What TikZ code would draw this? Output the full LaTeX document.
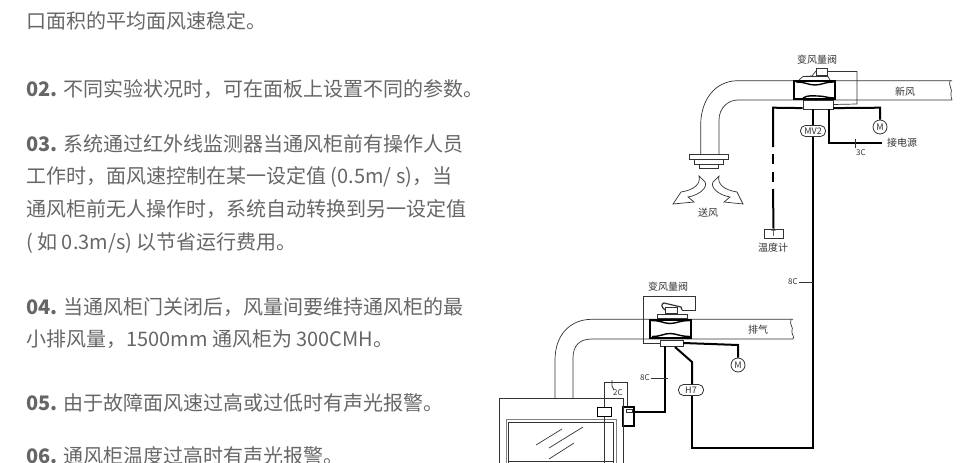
\documentclass[tikz,border=0pt]{standalone}
\usepackage{fontspec}
\setmainfont{Noto Sans CJK SC}
\newfontfamily\boldcjk{Noto Sans CJK SC Bold}
\definecolor{bodygray}{HTML}{666666}
\definecolor{cadgray}{HTML}{333333}
\tikzset{
  bodytext/.style={anchor=west, inner sep=0pt, text=bodygray, font=\fontsize{20}{24}\selectfont},
  cadtext/.style={inner sep=0pt, text=cadgray, font=\fontsize{10}{12}\selectfont},
  duct/.style={draw=cadgray, line width=.7pt},
  thin wire/.style={draw=cadgray, line width=.7pt},
  wire/.style={draw=black, line width=2pt},
  valve/.style={draw=black, line width=2pt, fill=white},
  part/.style={draw=cadgray, line width=.8pt, fill=white, inner sep=0pt},
  pill/.style={part, rounded corners=5pt, minimum height=11pt, minimum width=25pt, text=cadgray, font=\fontsize{9}{10}\selectfont},
  motor/.style={part, circle, minimum size=14pt, text=cadgray, font=\fontsize{9}{10}\selectfont}
}
\begin{document}
\begin{tikzpicture}[x=1pt, y=-1pt]
  \useasboundingbox (0, 0) rectangle (980, 463);

  %% text column
  \node[bodytext] (line1) at (26, 21) {口面积的平均面风速稳定。};
  \node[bodytext] (line2) at (26, 89) {{\bfseries 02.} 不同实验状况时，可在面板上设置不同的参数。};
  \node[bodytext] (line3) at (26, 144) {{\bfseries 03.} 系统通过红外线监测器当通风柜前有操作人员};
  \node[bodytext] (line4) at (26, 177) {工作时，面风速控制在某一设定值 (0.5m/ s)，当};
  \node[bodytext] (line5) at (26, 209) {通风柜前无人操作时，系统自动转换到另一设定值};
  \node[bodytext] (line6) at (26, 243) {( 如 0.3m/s) 以节省运行费用。};
  \node[bodytext] (line7) at (26, 307) {{\bfseries 04.} 当通风柜门关闭后，风量间要维持通风柜的最};
  \node[bodytext] (line8) at (26, 339) {小排风量，1500mm 通风柜为 300CMH。};
  \node[bodytext] (line9) at (26, 403) {{\bfseries 05.} 由于故障面风速过高或过低时有声光报警。};
  \node[bodytext] (line10) at (26, 456) {{\bfseries 06.} 通风柜温度过高时有声光报警。};

  %% fresh air duct
  \draw[duct](952, 80.7) to (738, 80.7) .. controls (715, 80.7) and (700.7, 100) .. (700.7, 125) to (700.7, 154);
  \draw[duct](952, 100) to (738, 100) .. controls (728, 100) and (719, 108) .. (719, 120) to (719, 154);
  \draw[duct](950, 80.7) .. controls (948, 85) and (953, 90) .. (951, 93) .. controls (950, 96) and (952, 98) .. (952, 100);
  %% outlet
  \draw[part](689, 154) rectangle (728, 159);
  \draw[part](694, 159) rectangle (723, 164);
  \draw[part](699, 164) rectangle (718, 168);
  %% supply arrows
  \draw[duct](699, 176) .. controls (701, 184) and (694, 190) .. (681, 192) to (673, 204) to (694, 202) to (688, 197) .. controls (700, 195) and (708, 187) .. (705, 182) to cycle;
  \draw[duct](719, 176) .. controls (717, 184) and (724, 190) .. (737, 192) to (743, 204) to (724, 202) to (730, 197) .. controls (718, 195) and (710, 187) .. (713, 182) to cycle;
  \node[cadtext] (supply) at (708, 213) {送风};

  %% fresh air valve
  \node[cadtext] (valveAlabel) at (817, 60) {变风量阀};
  \node[valve, minimum width=41pt, minimum height=18pt, inner sep=0pt] (valveA) at (814.5, 90) {};
  \draw[line width=1.4pt](796, 82) .. controls (806, 82) and (808, 85) .. (815, 85) .. controls (822, 85) and (824, 82) .. (834, 82);
  \draw[line width=1.4pt](803, 98) .. controls (808, 95) and (812, 96) .. (818, 96) .. controls (824, 96) and (828, 98) .. (834, 98);
  \node[part, minimum width=30pt, minimum height=9pt] (driveA) at (818, 104.5) {};
  \node[part, minimum width=11pt, minimum height=7pt] (actA) at (821.5, 71.5) {};
  \draw[duct](799, 80) to (803, 76.5) to (812, 76) to (816, 71);
  \draw[duct](803, 76.5) to (828, 76.5) to (830, 80);
  \draw[thin wire](actA.east) to (857, 71.5) to (857, 104) to (driveA.east);

  %% wires of the fresh air valve
  \node[part, minimum width=19pt, minimum height=9pt, text=cadgray, font=\fontsize{8}{9}\selectfont] (tempbox) at (773.5, 233.5) {T};
  \node[cadtext] (templabel) at (773, 248) {温度计};
  \coordinate (leftturn) at (773, 107.7);
  \draw[wire](driveA.south west) ++(0, -1.3) to (leftturn) to (773, 147);
  \draw[wire](773, 154) to (773, 164);
  \draw[wire](773, 172) to (773, 182);
  \draw[wire](773, 189) to (tempbox.north);

  \node[motor] (motorA) at (880, 127) {M};
  \draw[wire](driveA.south east) ++(0, -1.3) to (880, 107.7) to (motorA.north);
  \coordinate (powerend) at (882, 143);
  \node[cadtext, anchor=west] (powerlabel) at (887, 143) {接电源};
  \draw[wire](829, 109) to (829, 143) to (powerend);
  \draw[thin wire](855, 139) to (855, 148);
  \node[cadtext, font=\fontsize{8}{9}\selectfont] (label3c) at (861, 153) {3C};

  %% exhaust duct
  \draw[duct](793, 319.3) to (592, 319.3) .. controls (570, 319.3) and (555, 335) .. (555, 360) to (555, 398);
  \draw[duct](793, 339) to (592, 339) .. controls (580, 339) and (573, 345) .. (573, 358) to (573, 398);
  \draw[duct](791, 319.3) .. controls (789, 325) and (794, 328) .. (792, 330) .. controls (791, 334) and (795, 337) .. (793, 339);
  \node[cadtext] (exhaust) at (758, 330) {排气};
  \node[cadtext] (fresh) at (905, 91.7) {新风};

  %% exhaust valve
  \node[cadtext] (valveBlabel) at (668, 287) {变风量阀};
  \draw[thin wire](660, 343) to (643, 343) to (643, 296) to (695, 296) to (695, 310) to (682, 310);
  \node[valve, minimum width=41pt, minimum height=18pt, inner sep=0pt] (valveB) at (670, 328.5) {};
  \draw[line width=1.4pt](651, 320.5) .. controls (661, 320.5) and (664, 323.5) .. (670, 323.5) .. controls (676, 323.5) and (680, 320.5) .. (690, 320.5);
  \draw[line width=1.4pt](652, 336.5) .. controls (661, 336.5) and (664, 333.5) .. (670, 333.5) .. controls (676, 333.5) and (680, 336.5) .. (690, 336.5);
  \node[part, minimum width=23pt, minimum height=6pt] (driveB) at (671.5, 343) {};
  \draw[line width=1.2pt, draw=cadgray](682, 310) to (681, 307) to (664, 303) [rounded corners=1pt] to (662, 304) to (662, 307) to (665, 310);
  \node[part, minimum width=12pt, minimum height=6pt] (actB) at (671, 310.5) {};
  \draw[part](657, 314.5) rectangle (687, 318);

  %% wires of the exhaust valve
  \node[motor] (motorB) at (738, 365) {M};
  \draw[wire](driveB.east) to (738, 345) to (motorB.north);

  \node[pill] (hseven) at (691, 390) {H7};
  \node[pill] (mvtwo) at (813, 131) {MV2};
  \coordinate (hturn) at (692, 362);
  \coordinate (hcorner) at (692, 447.7);
  \coordinate (mvcorner) at (813, 447.7);
  \draw[wire](675, 347) to (hturn) to (hseven.north -| hturn);
  \draw[wire](hseven.south -| hturn) to (hcorner) to (mvcorner) to (mvtwo.south);
  \draw[wire](mvtwo.north) to (driveA.south -| mvtwo);
  \node[cadtext, font=\fontsize{8}{9}\selectfont] (label8ca) at (793, 282) {8C};
  \draw[thin wire](label8ca.east) ++(1, 0) to (813, 282);

  %% control box
  \node[draw=black, line width=1.2pt, fill=white, minimum width=11pt, minimum height=19pt, inner sep=0pt] (ctrlbox) at (628.5, 416.5) {};
  \draw[cadgray, line width=.8pt](626, 409) rectangle (632, 412.5);
  \draw[wire](665, 346) to (665, 411.7) to (ctrlbox.east |- 0, 411.7);
  \node[cadtext, font=\fontsize{8}{9}\selectfont] (label8cb) at (645, 378) {8C};
  \draw[thin wire](label8cb.east) ++(1, 0) to (668, 378);

  %% fume cupboard
  \draw[draw=cadgray, line width=.7pt](499, 463) to (499, 398) to (623, 398) to (623, 463);
  \draw[draw=gray, line width=.8pt](506, 463) to (506, 419) to (616, 419) to (616, 463);
  \draw[draw=cadgray, line width=.8pt](508, 463) to (508, 422) to (613, 422) to (613, 463);
  \draw[draw=cadgray, line width=.7pt](508, 461.7) to (613, 461.7);
  \draw[duct](536, 445) to (562, 429);
  \draw[duct](549, 448) to (583, 427);
  \draw[duct](549, 459) to (574, 443);

  %% sensor
  \node[draw=black, line width=1pt, fill=white, minimum width=14pt, minimum height=9pt, inner sep=0pt] (sensor) at (604, 411.5) {};
  \draw[thin wire](sensor.north) to (604, 382) to (627, 382) to (ctrlbox.north -| 627, 0);
  \draw[thin wire](sensor.south) to (604, 463);
  \draw[thin wire](612, 380) to (612, 386) to (614, 390);
  \node[cadtext, font=\fontsize{8}{9}\selectfont] (label2c) at (618, 393) {2C};
\end{tikzpicture}
\end{document}
